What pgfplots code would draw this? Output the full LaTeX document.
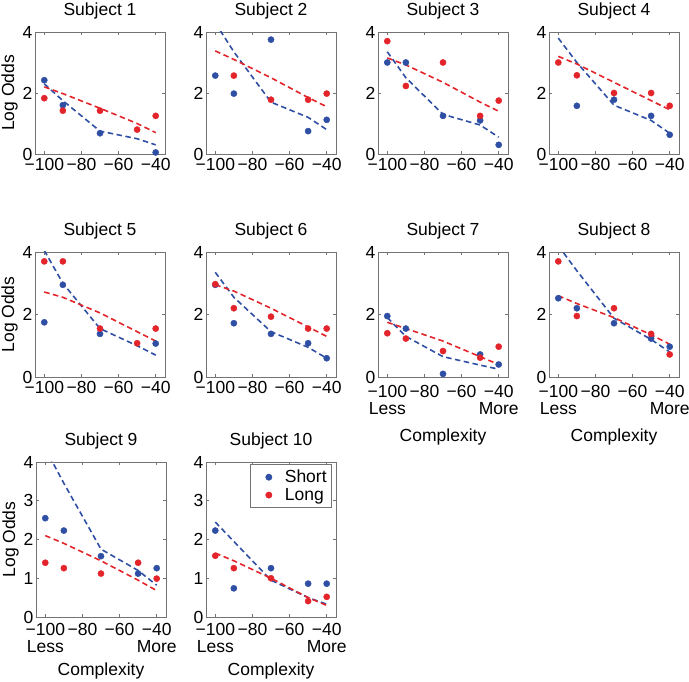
\documentclass[border=0pt]{standalone}
\usepackage{fontspec}
\setmainfont{Liberation Sans}
\usepackage{pgfplots}
\pgfplotsset{compat=1.18}
\definecolor{sblue}{RGB}{46,79,163}
\definecolor{sred}{RGB}{227,36,43}
\pgfplotsset{
  subj/.style={
    scale only axis, width=130pt, anchor=south west,
    xmin=-105, xmax=-35, ymin=0, ymax=4,
    xtick={-100,-80,-60,-40},
    xticklabels={−100,−80,−60,−40},
    axis line style={black!55, line width=0.7pt},
    tick style={black!55, line width=0.6pt},
    major tick length=3pt,
    font=\fontsize{17.5}{17}\selectfont,
    /pgf/number format/assume math mode=true,
    xticklabel style={inner sep=1.5pt, align=center, yshift=-3pt},
    yticklabel style={inner sep=2.5pt},
    title style={yshift=3pt},
    ylabel style={inner sep=2pt},
  },
  lessmore/.style 2 args={xticklabels={{−100\\Less},−80,−60,{−40\\More}},
    xticklabel style={yshift=#1}, xlabel style={yshift=#2}},
  pts/.style={only marks, mark=*, mark size=3.1pt, color=#1, mark options={draw=none, fill=#1}},
  fit/.style={forget plot, color=#1, line width=1.6pt, dash pattern=on 5.5pt off 3.5pt, no marks},
}
\begin{document}
\begin{tikzpicture}
\useasboundingbox (0,0) rectangle (689pt,682pt);
% ---------- Row 1 ----------
\begin{axis}[subj, height=122pt, at={(35pt,528pt)}, ytick={0,2,4}, title={Subject 1}, ylabel={Log Odds}]
\addplot[pts=sblue] coordinates {(-100,2.42) (-90,1.6) (-70,0.68) (-40,0.05)};
\addplot[pts=sred] coordinates {(-100,1.83) (-90,1.42) (-70,1.42) (-50,0.8) (-40,1.25)};
\addplot[fit=sblue] coordinates {(-100,2.3) (-90,1.75) (-70,0.75) (-50,0.5) (-40,0.3)};
\addplot[fit=sred] coordinates {(-100,2.2) (-90,1.98) (-70,1.5) (-50,1.0) (-40,0.7)};
\end{axis}
\begin{axis}[subj, height=122pt, at={(206pt,528pt)}, ytick={0,2,4}, title={Subject 2}]
\addplot[pts=sblue] coordinates {(-100,2.57) (-90,1.98) (-70,3.75) (-50,0.75) (-40,1.12)};
\addplot[pts=sred] coordinates {(-90,2.57) (-70,1.78) (-50,1.78) (-40,1.98)};
\addplot[fit=sblue] coordinates {(-100,4.3) (-90,3.35) (-70,1.7) (-50,1.2) (-40,0.8)};
\addplot[fit=sred] coordinates {(-100,3.38) (-90,3.1) (-70,2.5) (-50,1.85) (-40,1.55)};
\end{axis}
\begin{axis}[subj, height=122pt, at={(378pt,528pt)}, ytick={0,2,4}, title={Subject 3}]
\addplot[pts=sblue] coordinates {(-100,3.0) (-90,3.0) (-70,1.25) (-50,1.1) (-40,0.3)};
\addplot[pts=sred] coordinates {(-100,3.7) (-90,2.23) (-70,3.0) (-50,1.25) (-40,1.75)};
\addplot[fit=sblue] coordinates {(-100,3.35) (-90,2.5) (-70,1.3) (-50,0.95) (-40,0.55)};
\addplot[fit=sred] coordinates {(-100,3.15) (-90,2.92) (-70,2.35) (-50,1.7) (-40,1.4)};
\end{axis}
\begin{axis}[subj, height=122pt, at={(549pt,528pt)}, ytick={0,2,4}, title={Subject 4}]
\addplot[pts=sblue] coordinates {(-90,1.58) (-70,1.78) (-50,1.25) (-40,0.63)};
\addplot[pts=sred] coordinates {(-100,3.0) (-90,2.58) (-70,2.0) (-50,2.0) (-40,1.58)};
\addplot[fit=sblue] coordinates {(-100,3.8) (-90,3.0) (-70,1.6) (-50,1.1) (-40,0.68)};
\addplot[fit=sred] coordinates {(-100,3.2) (-90,2.95) (-70,2.35) (-50,1.75) (-40,1.45)};
\end{axis}
% ---------- Row 2 ----------
\begin{axis}[subj, height=125pt, at={(35pt,305pt)}, ytick={0,2,4}, title={Subject 5}, ylabel={Log Odds}]
\addplot[pts=sblue] coordinates {(-100,1.75) (-90,2.95) (-70,1.38) (-40,1.07)};
\addplot[pts=sred] coordinates {(-100,3.7) (-90,3.7) (-70,1.55) (-50,1.08) (-40,1.55)};
\addplot[fit=sblue] coordinates {(-100,4.05) (-90,3.0) (-70,1.55) (-50,1.0) (-40,0.7)};
\addplot[fit=sred] coordinates {(-100,2.72) (-90,2.55) (-70,2.05) (-50,1.45) (-40,1.15)};
\end{axis}
\begin{axis}[subj, height=125pt, at={(206pt,305pt)}, ytick={0,2,4}, title={Subject 6}]
\addplot[pts=sblue] coordinates {(-100,2.95) (-90,1.72) (-70,1.38) (-50,1.08) (-40,0.6)};
\addplot[pts=sred] coordinates {(-100,2.97) (-90,2.2) (-70,1.93) (-50,1.55) (-40,1.55)};
\addplot[fit=sblue] coordinates {(-100,3.35) (-90,2.55) (-70,1.45) (-50,0.95) (-40,0.6)};
\addplot[fit=sred] coordinates {(-100,2.95) (-90,2.75) (-70,2.2) (-50,1.6) (-40,1.3)};
\end{axis}
\begin{axis}[subj, lessmore={-4pt}{-9pt}, height=125pt, at={(378pt,305pt)}, ytick={0,2,4}, title={Subject 7}, xlabel={Complexity}]
\addplot[pts=sblue] coordinates {(-100,1.95) (-90,1.55) (-70,0.1) (-50,0.72) (-40,0.4)};
\addplot[pts=sred] coordinates {(-100,1.4) (-90,1.23) (-70,0.83) (-50,0.62) (-40,0.97)};
\addplot[fit=sblue] coordinates {(-100,1.9) (-90,1.3) (-70,0.65) (-50,0.38) (-40,0.25)};
\addplot[fit=sred] coordinates {(-100,1.75) (-90,1.55) (-70,1.15) (-50,0.65) (-40,0.4)};
\end{axis}
\begin{axis}[subj, lessmore={-4pt}{-9pt}, height=125pt, at={(549pt,305pt)}, ytick={0,2,4}, title={Subject 8}, xlabel={Complexity}]
\addplot[pts=sblue] coordinates {(-100,2.52) (-90,2.2) (-70,1.72) (-50,1.23) (-40,0.97)};
\addplot[pts=sred] coordinates {(-100,3.7) (-90,1.95) (-70,2.2) (-50,1.38) (-40,0.72)};
\addplot[fit=sblue] coordinates {(-100,4.2) (-90,3.4) (-70,1.88) (-50,1.2) (-40,0.8)};
\addplot[fit=sred] coordinates {(-100,2.6) (-90,2.35) (-70,1.9) (-50,1.35) (-40,1.05)};
\end{axis}
% ---------- Row 3 ----------
\begin{axis}[subj, lessmore={-2pt}{-5pt}, height=155pt, at={(36pt,65pt)}, ytick={0,1,2,3,4}, title={Subject 9}, ylabel={Log Odds}, xlabel={Complexity}]
\addplot[pts=sblue] coordinates {(-100,2.55) (-90,2.23) (-70,1.57) (-50,1.12) (-40,1.26)};
\addplot[pts=sred] coordinates {(-100,1.4) (-90,1.26) (-70,1.12) (-50,1.4) (-40,0.99)};
\addplot[fit=sblue] coordinates {(-100,4.35) (-90,3.45) (-70,1.75) (-50,1.2) (-40,0.82)};
\addplot[fit=sred] coordinates {(-100,2.1) (-90,1.9) (-70,1.45) (-50,0.95) (-40,0.68)};
\end{axis}
\begin{axis}[subj, lessmore={-2pt}{-5pt}, height=155pt, at={(206pt,65pt)}, ytick={0,1,2,3,4}, title={Subject 10}, xlabel={Complexity},
  legend style={at={(0.969,0.985)}, anchor=north east, draw=black!55, line width=0.6pt,
    font=\fontsize{17.5}{19}\selectfont, inner xsep=3pt, inner ysep=3.5pt,
    nodes={inner sep=2pt}, row sep=0pt},
  legend cell align=left,
  legend image code/.code={\path[draw=none, fill=none] (0pt,-3pt) rectangle (30pt,3pt); \fill[#1] (16pt,0pt) circle (3.1pt);}]
\addplot[pts=sblue] coordinates {(-100,2.23) (-90,0.74) (-70,1.26) (-50,0.86) (-40,0.86)};
\addlegendentry{Short}
\addplot[pts=sred] coordinates {(-100,1.58) (-90,1.26) (-70,1.0) (-50,0.41) (-40,0.52)};
\addlegendentry{Long}
\addplot[fit=sblue] coordinates {(-100,2.45) (-90,1.95) (-70,0.95) (-50,0.5) (-40,0.33)};
\addplot[fit=sred] coordinates {(-100,1.65) (-90,1.45) (-70,1.0) (-50,0.5) (-40,0.3)};
\end{axis}
\end{tikzpicture}
\end{document}
